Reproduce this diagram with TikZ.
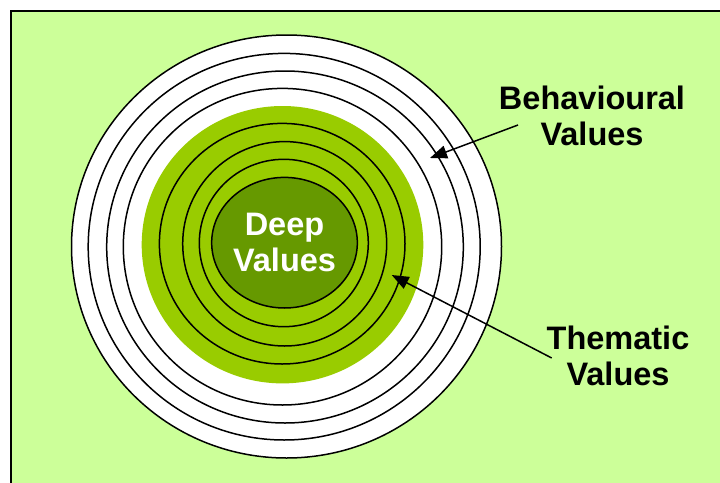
\documentclass[tikz,border=0pt]{standalone}
\usepackage{fontspec}
\setmainfont{Liberation Sans}
\usetikzlibrary{arrows.meta,shapes.geometric}

\definecolor{bggreen}{HTML}{CCFF99}
\definecolor{ringgreen}{HTML}{99CC00}
\definecolor{coregreen}{HTML}{669900}

\tikzset{
  ring/.style={draw=black,fill=white,line width=1.5pt},
  band/.style={draw=black,fill=ringgreen,line width=1.5pt},
  label/.style={font=\bfseries\fontsize{32.5}{36}\selectfont,align=center},
  pointer/.style={-{Triangle[length=17pt,width=13pt]},line width=1.5pt}
}

\begin{document}
\begin{tikzpicture}[x=1pt,y=-1pt]

        \useasboundingbox (0,0) rectangle (720,482);
        \clip (0,0) rectangle (720,482);
        \draw[fill=bggreen,line width=1.6pt] (11,11) rectangle (740,500);

        \begin{scope}
          \path[ring] (286.5,246.5) ellipse [x radius=215,y radius=211.5];
          \path[ring] (284.2,246.7) ellipse [x radius=196,y radius=193.3];
          \path[ring] (285,247) ellipse [x radius=178.3,y radius=176];
          \path[ring] (282.5,246.7) ellipse [x radius=159.2,y radius=158.3];
          \fill[ringgreen] (282.5,244.7) ellipse [x radius=140.8,y radius=138.7];
          \path[band] (282.2,243.7) ellipse [x radius=122.8,y radius=120.3];
          \path[band] (284.7,243.8) ellipse [x radius=102,y radius=102.2];
          \path[band] (283.8,243) ellipse [x radius=84.5,y radius=83.7];
        \end{scope}

        \node[ellipse,draw=black,line width=1.5pt,fill=coregreen,
              minimum width=141pt,minimum height=130.6pt,inner sep=0pt,
              label,text=white] (deep) at (284.5,242.7) {Deep\\Values};

        \node[label] (behav) at (592,116) {Behavioural\\Values};
        \node[label] (theme) at (618,356) {Thematic\\Values};

        \coordinate (behavtail) at (518,125);
        \coordinate (behavtip) at (430,158);
        \coordinate (themetail) at (551.7,358);
        \coordinate (themetip) at (391.7,275);

        \draw[pointer] (behavtail) -- (behavtip);
        \draw[pointer] (themetail) -- (themetip);

      \end{tikzpicture}
\end{document}
